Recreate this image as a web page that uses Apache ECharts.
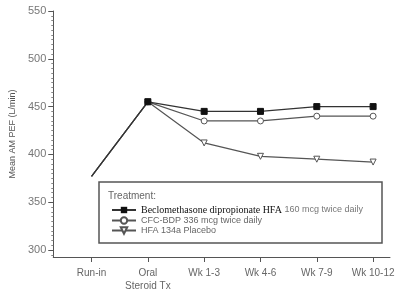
<!DOCTYPE html>
<html>
<head>
<meta charset="utf-8">
<script src="https://cdn.jsdelivr.net/npm/echarts@6/dist/echarts.min.js"></script>
<style>
  html, body { margin: 0; padding: 0; background: #fff; }
  #chart { width: 400px; height: 294px; }
</style>
</head>
<body>
<div id="chart"></div>
<script>
// data
const categories = ['Run-in', 'Oral\nSteroid Tx', 'Wk 1-3', 'Wk 4-6', 'Wk 7-9', 'Wk 10-12']
const yTicks = [300, 350, 400, 450, 500, 550]
const seriesNames = [
  'Beclomethasone dipropionate HFA 160 mcg twice daily',
  'CFC-BDP 336 mcg twice daily',
  'HFA 134a Placebo'
]
const bdpHfa = [377, 455, 445, 445, 450, 450]
const cfcBdp = [377, 455, 435, 435, 440, 440]
const placebo = [377, 455, 412, 398, 395, 392]

const toPoints = arr => arr.map((v, i) => ({
  value: [i, v],
  symbol: i === 0 ? 'none' : undefined
}))

const chart = echarts.init(document.getElementById('chart'))
const font = 'Liberation Sans, Arial, sans-serif'
const option = {
  animation: false,
  backgroundColor: '#fff',
  grid: { left: 51, right: 10, top: 11, bottom: 37 },
  xAxis: {
    type: 'value',
    min: -0.68,
    max: 5.3,
    splitLine: { show: false },
    axisLine: { onZero: false, lineStyle: { color: '#555', width: 1 } },
    axisTick: { customValues: [0, 1, 2, 3, 4, 5], length: 5, lineStyle: { color: '#555' } },
    axisLabel: {
      customValues: [0, 1, 2, 3, 4, 5],
      formatter: v => categories[Math.round(v)],
      color: '#666',
      fontSize: 10,
      fontFamily: font,
      lineHeight: 13,
      margin: 10
    }
  },
  yAxis: {
    type: 'value',
    min: 292.7,
    max: 550,
    name: 'Mean AM PEF (L/min)',
    nameLocation: 'middle',
    nameGap: 35,
    nameTextStyle: { color: '#555', fontSize: 9, fontFamily: font },
    splitLine: { show: false },
    axisLine: { show: true, onZero: false, lineStyle: { color: '#555' } },
    axisTick: { customValues: yTicks, length: 5, lineStyle: { color: '#555' } },
    minorTick: { show: true, splitNumber: 10, length: 2, lineStyle: { color: '#888' } },
    axisLabel: {
      customValues: yTicks,
      color: '#777',
      fontSize: 11,
      fontFamily: font,
      margin: 7
    }
  },
  legend: {
    orient: 'vertical',
    left: 106,
    top: 200,
    itemGap: 1,
    itemWidth: 24,
    itemHeight: 8,
    data: seriesNames,
    formatter: name => {
      if (name.indexOf('Beclomethasone') === 0) {
        return '{b|Beclomethasone dipropionate HFA} {g|160 mcg twice daily}'
      }
      return name
    },
    textStyle: {
      fontSize: 9,
      color: '#666',
      fontFamily: font,
      rich: {
        b: { fontFamily: 'Liberation Serif, serif', fontSize: 10, color: '#111' },
        g: { fontFamily: font, fontSize: 9, color: '#777' }
      }
    }
  },
  graphic: [
    {
      type: 'rect',
      shape: { x: 99, y: 182, width: 283, height: 61 },
      style: { fill: '#fff', stroke: '#555', lineWidth: 1.5 },
      z: 0
    },
    {
      type: 'text',
      left: 108,
      top: 191,
      style: { text: 'Treatment:', fill: '#666', font: '10px Liberation Sans, Arial, sans-serif' },
      z: 10
    }
  ],
  series: [
    {
      name: seriesNames[0],
      type: 'line',
      data: toPoints(bdpHfa),
      symbol: 'rect',
      symbolSize: 6,
      color: '#111',
      lineStyle: { color: '#333', width: 1.2 },
      itemStyle: { color: '#111', borderColor: '#111' },
      z: 5
    },
    {
      name: seriesNames[1],
      type: 'line',
      data: toPoints(cfcBdp),
      symbol: 'circle',
      symbolSize: 6,
      color: '#555',
      lineStyle: { color: '#555', width: 1.2 },
      itemStyle: { color: '#fff', borderColor: '#555', borderWidth: 1 },
      z: 4
    },
    {
      name: seriesNames[2],
      type: 'line',
      data: toPoints(placebo),
      symbol: 'triangle',
      symbolRotate: 180,
      symbolSize: 6,
      color: '#555',
      lineStyle: { color: '#555', width: 1.2 },
      itemStyle: { color: '#fff', borderColor: '#555', borderWidth: 1 },
      z: 3
    }
  ]
}
chart.setOption(option)
</script>
</body>
</html>
